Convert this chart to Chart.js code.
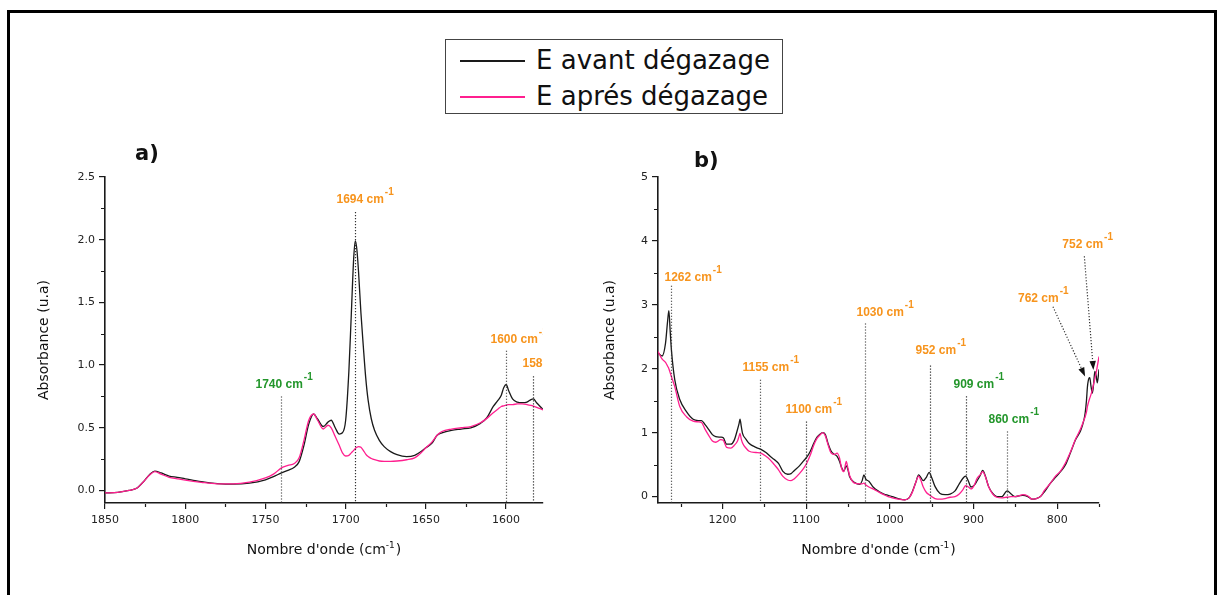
<!DOCTYPE html>
<html>
<head>
<meta charset="utf-8">
<script src="https://cdn.jsdelivr.net/npm/chart.js@4.4.1/dist/chart.umd.min.js"></script>
<style>
  html, body { margin: 0; padding: 0; background: #fff; }
  body { width: 1221px; height: 595px; position: relative; overflow: hidden; font-family: "DejaVu Sans", sans-serif; color: #111; }
  #frame { position: absolute; left: 7px; top: 10px; width: 1204px; height: 600px; border: 3px solid #000; border-bottom: none; }
  canvas { position: absolute; top: 0; }
  #chartA { left: 0; }
  #chartB { left: 590px; }
  #legend { position: absolute; left: 445px; top: 39px; width: 336px; height: 73px; border: 1px solid #444; background: #fff; }
  #legend .row { position: absolute; left: 90px; font-size: 26px; line-height: 30px; white-space: nowrap; }
  #legend .swatch { position: absolute; left: 14px; width: 65px; height: 2px; }
  .panel { position: absolute; font-weight: bold; font-size: 21px; line-height: 21px; }
</style>
</head>
<body>
<div id="frame"></div>
<canvas id="chartA" width="600" height="595"></canvas>
<canvas id="chartB" width="631" height="595"></canvas>
<div id="legend">
  <div class="swatch" style="top:20px;background:#1a1a1a"></div>
  <div class="row" style="top:5px">E avant dégazage</div>
  <div class="swatch" style="top:56px;background:#ff1f8f"></div>
  <div class="row" style="top:41px">E aprés dégazage</div>
</div>
<div class="panel" style="left:135px;top:143px">a)</div>
<div class="panel" style="left:694px;top:150px">b)</div>
<script>
// --- a) zone 1850-1577 cm-1 ---
const wnA = [1850, 1842, 1835, 1830, 1826, 1822, 1819, 1815, 1810, 1805,
  1800, 1790, 1780, 1770, 1760, 1750, 1745, 1740, 1736, 1732,
  1729, 1726, 1723, 1720, 1717.5, 1714, 1711, 1709, 1706.5, 1704,
  1702, 1700, 1698, 1696.5, 1695, 1694, 1693, 1692, 1690.5, 1689,
  1687.5, 1686, 1684, 1682, 1679, 1676, 1672, 1668, 1662, 1657,
  1653, 1650, 1646, 1643, 1640, 1634, 1628, 1622, 1616, 1612,
  1608, 1605, 1603, 1601.5, 1600, 1598.5, 1596, 1593, 1590, 1587,
  1584.5, 1583, 1581, 1578, 1577];
const avantA = [-0.02, -0.015, 0.0, 0.02, 0.07, 0.13, 0.155, 0.14, 0.115, 0.105,
  0.093, 0.07, 0.055, 0.05, 0.058, 0.085, 0.11, 0.14, 0.16, 0.185,
  0.23, 0.36, 0.53, 0.61, 0.57, 0.51, 0.545, 0.56, 0.5, 0.45,
  0.46, 0.56, 0.95, 1.4, 1.85, 1.99, 1.92, 1.75, 1.42, 1.15,
  0.9, 0.72, 0.57, 0.48, 0.4, 0.35, 0.31, 0.285, 0.27, 0.28,
  0.31, 0.34, 0.38, 0.44, 0.46, 0.48, 0.49, 0.5, 0.535, 0.58,
  0.67, 0.72, 0.76, 0.82, 0.845, 0.8, 0.73, 0.705, 0.7, 0.705,
  0.725, 0.73, 0.7, 0.66, 0.645];
const apresA = [-0.02, -0.015, 0.0, 0.02, 0.07, 0.125, 0.15, 0.13, 0.105, 0.093,
  0.082, 0.065, 0.053, 0.052, 0.066, 0.1, 0.13, 0.18, 0.2, 0.215,
  0.26, 0.4, 0.56, 0.61, 0.56, 0.49, 0.52, 0.5, 0.43, 0.36,
  0.3, 0.275, 0.28, 0.3, 0.32, 0.335, 0.345, 0.35, 0.345, 0.32,
  0.29, 0.27, 0.255, 0.245, 0.235, 0.232, 0.232, 0.235, 0.245, 0.26,
  0.3, 0.34, 0.39, 0.44, 0.47, 0.49, 0.5, 0.51, 0.54, 0.575,
  0.62, 0.65, 0.67, 0.675, 0.68, 0.685, 0.685, 0.69, 0.69, 0.685,
  0.678, 0.672, 0.662, 0.648, 0.642];
const xTicksA = [1850, 1800, 1750, 1700, 1650, 1600];
const xMinorA = [1825, 1775, 1725, 1675, 1625];
const yTicksA = [0, 0.5, 1, 1.5, 2, 2.5];
const yMinorA = [0.25, 0.75, 1.25, 1.75, 2.25];

// --- b) zone 1277-750 cm-1 ---
const wnB = [1277, 1272, 1268, 1265.5, 1264, 1262.5, 1261, 1257, 1251, 1243,
  1235, 1229, 1225, 1221, 1217, 1212, 1208, 1202, 1199, 1195,
  1190, 1186, 1182, 1180, 1179, 1177.5, 1176, 1172, 1168, 1160,
  1154, 1148, 1143, 1138, 1133, 1128, 1122, 1118, 1114, 1108,
  1103, 1099, 1095, 1091, 1087, 1083, 1080, 1077, 1074, 1070,
  1066, 1063, 1060, 1057.5, 1055, 1052, 1050, 1048, 1042, 1036,
  1033, 1031, 1028.5, 1025, 1020, 1013, 1007, 1002, 997, 990,
  982, 977, 973, 969, 965.5, 963, 960, 956, 953, 950,
  946, 940, 934, 928, 922, 917, 913, 909.5, 906, 903,
  899, 896, 892, 889, 886, 882, 877, 872, 866, 861,
  859.5, 855, 850, 846, 841, 835, 830, 825, 820, 815,
  808, 802, 796, 790, 784, 778, 772, 768, 766.5, 765,
  763.8, 762, 761, 759.5, 758, 756.5, 755, 753.5, 752, 750];
const avantB = [2.25, 2.2, 2.4, 2.75, 2.91, 2.6, 2.3, 1.83, 1.52, 1.33,
  1.21, 1.19, 1.19, 1.13, 1.06, 0.97, 0.94, 0.93, 0.92, 0.82,
  0.82, 0.88, 1.05, 1.15, 1.21, 1.1, 0.99, 0.9, 0.83, 0.77,
  0.74, 0.69, 0.63, 0.58, 0.52, 0.4, 0.35, 0.36, 0.41, 0.48,
  0.56, 0.62, 0.71, 0.83, 0.93, 0.98, 1.0, 0.97, 0.84, 0.71,
  0.66, 0.63, 0.55, 0.45, 0.4, 0.48, 0.42, 0.31, 0.22, 0.19,
  0.25, 0.34, 0.27, 0.24, 0.15, 0.08, 0.04, 0.02, 0.0, -0.03,
  -0.05, -0.02, 0.08, 0.22, 0.34, 0.3, 0.25, 0.31, 0.38, 0.3,
  0.16, 0.05, 0.03, 0.04, 0.09, 0.2, 0.28, 0.32, 0.24, 0.15,
  0.18, 0.24, 0.33, 0.41, 0.33, 0.16, 0.05, 0.0, 0.0, 0.08,
  0.09, 0.04, 0.0, 0.01, 0.02, 0.0, -0.04, -0.03, 0.0, 0.08,
  0.21, 0.3, 0.39, 0.5, 0.69, 0.89, 1.03, 1.2, 1.31, 1.5,
  1.72, 1.85, 1.86, 1.72, 1.62, 1.75, 1.96, 1.9, 1.78, 1.99];
const apresB = [2.27, 2.15, 2.1, 2.04, 2.0, 1.94, 1.88, 1.72, 1.41, 1.25,
  1.18, 1.17, 1.16, 1.06, 0.97, 0.87, 0.85, 0.89, 0.88, 0.77,
  0.76, 0.8, 0.87, 0.95, 0.99, 0.9, 0.84, 0.76, 0.71, 0.69,
  0.68, 0.63, 0.575, 0.5, 0.42, 0.32, 0.26, 0.25, 0.28, 0.36,
  0.44, 0.53, 0.65, 0.8, 0.91, 0.97, 1.0, 0.95, 0.82, 0.68,
  0.66, 0.68, 0.6, 0.44, 0.39, 0.55, 0.44, 0.33, 0.21, 0.2,
  0.2, 0.21, 0.18, 0.15, 0.12, 0.07, 0.03, 0.0, -0.02, -0.04,
  -0.05, -0.02, 0.07, 0.22, 0.32, 0.26, 0.15, 0.06, 0.03, 0.0,
  -0.03, -0.04, -0.03, -0.01, 0.0, 0.04, 0.1, 0.17, 0.15, 0.12,
  0.18, 0.28, 0.34, 0.39, 0.32, 0.16, 0.04, -0.01, -0.02, -0.01,
  -0.01, 0.0, 0.0, 0.01, 0.03, 0.01, -0.04, -0.03, 0.0, 0.1,
  0.21, 0.32, 0.4, 0.53, 0.7, 0.9, 1.06, 1.2, 1.25, 1.32,
  1.41, 1.5, 1.54, 1.6, 1.67, 1.76, 1.84, 1.93, 2.04, 2.19];
const xTicksB = [1200, 1100, 1000, 900, 800];
const xMinorB = [1250, 1150, 1050, 950, 850, 750];
const yTicksB = [0, 1, 2, 3, 4, 5];
const yMinorB = [0.5, 1.5, 2.5, 3.5, 4.5];

const ORANGE = '#f7941d';
const GREEN = '#23962b';
const AXIS = '#1a1a1a';

// bandes repérées : position (cm-1), haut du trait pointillé (absorbance), décalage du texte en px
const notesA = [
  { wn: 1740, top: 0.75, label: '1740 cm', color: GREEN, dx: -26, dy: -8 },
  { wn: 1694, top: 2.22, label: '1694 cm', color: ORANGE, dx: -19, dy: -9 },
  { wn: 1600, top: 1.115, label: '1600 cm', color: ORANGE, dx: -16, dy: -8 },
  { wn: 1583, top: 0.91, label: '1583 cm', color: ORANGE, dx: -11, dy: -9 }
];
const notesB = [
  { wn: 1262, top: 3.3, label: '1262 cm', color: ORANGE, dx: -7, dy: -5 },
  { wn: 1155, top: 1.83, label: '1155 cm', color: ORANGE, dx: -18, dy: -9 },
  { wn: 1100, top: 1.175, label: '1100 cm', color: ORANGE, dx: -21, dy: -9 },
  { wn: 1030, top: 2.71, label: '1030 cm', color: ORANGE, dx: -9, dy: -7 },
  { wn: 952, top: 2.05, label: '952 cm', color: ORANGE, dx: -15, dy: -12 },
  { wn: 909, top: 1.57, label: '909 cm', color: GREEN, dx: -13, dy: -8 },
  { wn: 860, top: 1.02, label: '860 cm', color: GREEN, dx: -19, dy: -8 }
];
const arrowsB = [
  { from: [805, 2.97], to: [766.6, 1.88], label: '762 cm', color: ORANGE, dx: -35, dy: -5 },
  { from: [767.5, 3.76], to: [756.7, 1.98], label: '752 cm', color: ORANGE, dx: -22, dy: -8 }
];

function supText(ctx, x, y, main, sup, font, supFont, raise) {
  ctx.font = font;
  ctx.fillText(main, x, y);
  const w = ctx.measureText(main).width;
  ctx.font = supFont;
  ctx.fillText(sup, x + w + 1, y - raise);
}

function spectrumDecor(cfg) {
  return {
    id: 'spectrumDecor',
    afterDatasetsDraw(chart) {
      const { ctx, chartArea: area } = chart;
      const xs = chart.scales.x, ys = chart.scales.y;
      ctx.save();

      // graduations mineures
      ctx.strokeStyle = AXIS;
      ctx.lineWidth = 1.2;
      ctx.beginPath();
      cfg.xMinor.forEach(v => {
        const px = Math.round(xs.getPixelForValue(v)) + 0.5;
        ctx.moveTo(px, area.bottom + 1);
        ctx.lineTo(px, area.bottom + 4);
      });
      cfg.yMinor.forEach(v => {
        const py = Math.round(ys.getPixelForValue(v)) + 0.5;
        ctx.moveTo(area.left - 1, py);
        ctx.lineTo(area.left - 4, py);
      });
      ctx.stroke();

      // titre de l'axe x avec exposant
      const main = "Nombre d'onde (cm";
      ctx.fillStyle = '#111';
      ctx.font = '14px "DejaVu Sans"';
      const w1 = ctx.measureText(main).width;
      const w3 = ctx.measureText(')').width;
      ctx.font = '9px "DejaVu Sans"';
      const w2 = ctx.measureText('-1').width;
      let tx = (area.left + area.right) / 2 - (w1 + w2 + w3 + 1) / 2;
      const ty = area.bottom + 51;
      ctx.textAlign = 'left';
      ctx.textBaseline = 'alphabetic';
      ctx.font = '14px "DejaVu Sans"';
      ctx.fillText(main, tx, ty);
      ctx.font = '9px "DejaVu Sans"';
      ctx.fillText('-1', tx + w1, ty - 6);
      ctx.font = '14px "DejaVu Sans"';
      ctx.fillText(')', tx + w1 + w2 + 1, ty);

      // annotations
      ctx.save();
      if (cfg.clipRight) {
        ctx.beginPath();
        ctx.rect(0, 0, area.right, chart.height);
        ctx.clip();
      }
      const font = 'bold 12px "Liberation Sans", Arial, sans-serif';
      const supFont = 'bold 10px "Liberation Sans", Arial, sans-serif';
      cfg.notes.forEach(n => {
        const px = Math.round(xs.getPixelForValue(n.wn)) + 0.5;
        const top = ys.getPixelForValue(n.top);
        ctx.strokeStyle = '#333';
        ctx.lineWidth = 1.2;
        ctx.setLineDash([1.2, 1.8]);
        ctx.beginPath();
        ctx.moveTo(px, top);
        ctx.lineTo(px, area.bottom);
        ctx.stroke();
        ctx.setLineDash([]);
        ctx.fillStyle = n.color;
        supText(ctx, px + n.dx, top + n.dy, n.label, '-1', font, supFont, 8);
      });
      (cfg.arrows || []).forEach(a => {
        const x0 = xs.getPixelForValue(a.from[0]), y0 = ys.getPixelForValue(a.from[1]);
        const x1 = xs.getPixelForValue(a.to[0]), y1 = ys.getPixelForValue(a.to[1]);
        const ang = Math.atan2(y1 - y0, x1 - x0);
        const head = 9, half = 3.2;
        const bx = x1 - head * Math.cos(ang), by = y1 - head * Math.sin(ang);
        ctx.strokeStyle = '#333';
        ctx.lineWidth = 1.2;
        ctx.setLineDash([1.2, 1.8]);
        ctx.beginPath();
        ctx.moveTo(x0, y0);
        ctx.lineTo(bx, by);
        ctx.stroke();
        ctx.setLineDash([]);
        ctx.fillStyle = '#111';
        ctx.beginPath();
        ctx.moveTo(x1, y1);
        ctx.lineTo(bx + half * Math.sin(ang), by - half * Math.cos(ang));
        ctx.lineTo(bx - half * Math.sin(ang), by + half * Math.cos(ang));
        ctx.closePath();
        ctx.fill();
        ctx.fillStyle = a.color;
        supText(ctx, x0 + a.dx, y0 + a.dy, a.label, '-1', font, supFont, 8);
      });
      ctx.restore();
      ctx.restore();
    }
  };
}

function makeSpectrum(canvasId, p) {
  const pts = vals => p.wn.map((x, i) => ({ x, y: vals[i] }));
  const tickFont = { family: 'DejaVu Sans', size: 11 };
  return new Chart(document.getElementById(canvasId), {
    type: 'line',
    data: {
      datasets: [
        { label: 'E avant dégazage', data: pts(p.avant), borderColor: '#1a1a1a', order: 2 },
        { label: 'E aprés dégazage', data: pts(p.apres), borderColor: '#ff1f8f', order: 1 }
      ]
    },
    options: {
      responsive: false,
      animation: false,
      devicePixelRatio: 1,
      parsing: false,
      elements: {
        point: { radius: 0 },
        line: { borderWidth: 1.3, cubicInterpolationMode: 'monotone', fill: false }
      },
      layout: { padding: { left: 0, top: p.top, right: p.right, bottom: 0 } },
      plugins: { legend: { display: false }, tooltip: { enabled: false } },
      scales: {
        x: {
          type: 'linear', reverse: true, min: p.xMin, max: p.xMax,
          afterBuildTicks: s => { s.ticks = p.xTicks.map(v => ({ value: v })); },
          afterFit: s => { s.height = p.xHeight; },
          ticks: { autoSkip: false, maxRotation: 0, padding: 5, color: '#222', font: tickFont, callback: v => String(v) },
          grid: { drawOnChartArea: false, tickLength: 6, color: AXIS, lineWidth: 1.2 },
          border: { display: true, color: AXIS, width: 1.6 }
        },
        y: {
          type: 'linear', min: p.yMin, max: p.yMax,
          afterBuildTicks: s => { s.ticks = p.yTicks.map(v => ({ value: v })); },
          afterFit: s => { s.width = p.yWidth; },
          ticks: { padding: 4, color: '#222', font: tickFont, callback: p.yFormat },
          grid: { drawOnChartArea: false, tickLength: 6, color: AXIS, lineWidth: 1.2 },
          border: { display: true, color: AXIS, width: 1.6 },
          title: { display: true, text: 'Absorbance (u.a)', color: '#111', font: { family: 'DejaVu Sans', size: 14 }, padding: { top: p.titlePad, bottom: 0 } }
        }
      }
    },
    plugins: [spectrumDecor(p.decor)]
  });
}

makeSpectrum('chartA', {
  wn: wnA, avant: avantA, apres: apresA,
  xMin: 1577, xMax: 1850, yMin: -0.1, yMax: 2.5,
  xTicks: xTicksA, yTicks: yTicksA, yFormat: v => v.toFixed(1),
  top: 177, right: 57, xHeight: 92, yWidth: 105, titlePad: 36,
  decor: { xMinor: xMinorA, yMinor: yMinorA, notes: notesA, clipRight: true }
});

makeSpectrum('chartB', {
  wn: wnB, avant: avantB, apres: apresB,
  xMin: 750, xMax: 1277, yMin: -0.1, yMax: 5,
  xTicks: xTicksB, yTicks: yTicksB, yFormat: v => String(v),
  top: 177, right: 122, xHeight: 92, yWidth: 68, titlePad: 12,
  decor: { xMinor: xMinorB, yMinor: yMinorB, notes: notesB, arrows: arrowsB, clipRight: false }
});
</script>
</body>
</html>
